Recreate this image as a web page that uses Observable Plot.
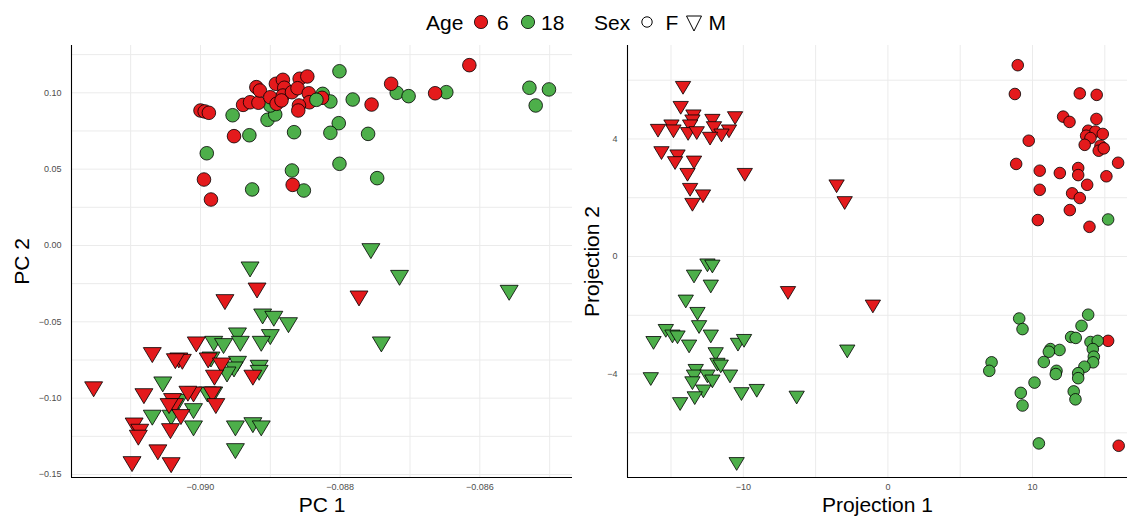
<!DOCTYPE html>
<html><head><meta charset="utf-8">
<script src="https://cdn.jsdelivr.net/npm/d3@7"></script>
<script src="https://cdn.jsdelivr.net/npm/@observablehq/plot@0.6"></script>
<style>
body{margin:0;background:#fff;font-family:"Liberation Sans",Arial,sans-serif;}
#wrap{position:relative;width:1132px;height:516px;overflow:hidden;background:#fff;}
#legend{position:absolute;left:0;top:0;}
#left{position:absolute;left:0;top:40px;}
#right{position:absolute;left:578px;top:40px;}
</style></head><body>
<div id="wrap">
<svg id="legend" width="1132" height="40" font-family="Liberation Sans, Arial, sans-serif" font-size="21" fill="black">
<text x="426" y="29.5">Age</text>
<circle cx="481" cy="22" r="6.6" fill="#E41A1C" stroke="black" stroke-width="0.8"/>
<text x="497" y="29.5">6</text>
<circle cx="528" cy="22" r="6.6" fill="#4DAF4A" stroke="black" stroke-width="0.8"/>
<text x="541" y="29.5">18</text>
<text x="594" y="29.5">Sex</text>
<circle cx="647" cy="22" r="5.2" fill="none" stroke="black" stroke-width="1"/>
<text x="665.5" y="29.5">F</text>
<path d="M686.5,16 L701.5,16 L694,31 Z" fill="none" stroke="black" stroke-width="1"/>
<text x="708.5" y="29.5">M</text>
</svg>
<div id="left"></div>
<div id="right"></div>
</div>
<script>
const red = "#E41A1C", green = "#4DAF4A";
const ageLevels = [6, 18];

// ---- Left panel: PCA (PC 1, PC 2) ----
const pcAge18F = [[-0.08954,0.0853],[-0.08930,0.0722],[-0.08991,0.0604],[-0.08926,0.0367],[-0.08904,0.0823],[-0.08893,0.0858],[-0.08900,0.0917],[-0.08866,0.0742],[-0.08869,0.0491],[-0.08852,0.0360],[-0.08801,0.1141],[-0.08825,0.0993],[-0.08814,0.0943],[-0.08782,0.0956],[-0.08719,0.1000],[-0.08702,0.0978],[-0.08648,0.1004],[-0.08529,0.1033],[-0.08501,0.1022],[-0.08520,0.0917],[-0.08802,0.0801],[-0.08814,0.0738],[-0.08760,0.0731],[-0.08801,0.0535],[-0.08747,0.0441]];
const pcAge6F = [[-0.09000,0.0884],[-0.08994,0.0878],[-0.08988,0.0869],[-0.08952,0.0716],[-0.08995,0.0432],[-0.08985,0.0301],[-0.08939,0.0921],[-0.08929,0.0938],[-0.08917,0.0935],[-0.08920,0.1037],[-0.08915,0.1015],[-0.08900,0.0971],[-0.08892,0.1059],[-0.08882,0.1085],[-0.08880,0.1033],[-0.08882,0.0982],[-0.08891,0.0928],[-0.08884,0.0950],[-0.08869,0.1004],[-0.08858,0.1092],[-0.08847,0.1107],[-0.08861,0.1030],[-0.08845,0.0997],[-0.08844,0.0938],[-0.08859,0.0917],[-0.08860,0.0884],[-0.08868,0.0397],[-0.08826,0.0967],[-0.08727,0.1059],[-0.08755,0.0923],[-0.08664,0.0997],[-0.08615,0.1181]];
const pcAge18Flate = [[-0.08834,0.0954]];
const pcAge18M = [[-0.08929,-0.0157],[-0.08911,-0.0465],[-0.08895,-0.0480],[-0.08874,-0.0522],[-0.08900,-0.0600],[-0.08913,-0.0644],[-0.08947,-0.0589],[-0.08943,-0.0644],[-0.08981,-0.0644],[-0.08967,-0.0659],[-0.08985,-0.0747],[-0.08947,-0.0775],[-0.08952,-0.0812],[-0.08962,-0.0845],[-0.08916,-0.0801],[-0.08916,-0.0834],[-0.09054,-0.0910],[-0.09069,-0.1128],[-0.09042,-0.1128],[-0.09010,-0.1085],[-0.09010,-0.1198],[-0.09031,-0.1024],[-0.08990,-0.0976],[-0.08981,-0.0976],[-0.08950,-0.1198],[-0.08925,-0.1177],[-0.08913,-0.1198],[-0.08950,-0.1347],[-0.08756,-0.0037],[-0.08715,-0.0212],[-0.08558,-0.0310],[-0.08741,-0.0648]];
const pcAge6M = [[-0.09153,-0.0942],[-0.08919,-0.0295],[-0.08965,-0.0371],[-0.09006,-0.0648],[-0.09069,-0.0718],[-0.09031,-0.0753],[-0.09026,-0.0762],[-0.09036,-0.0758],[-0.08989,-0.0753],[-0.08970,-0.0786],[-0.08980,-0.0866],[-0.08925,-0.0866],[-0.09081,-0.0987],[-0.08983,-0.0976],[-0.08978,-0.1052],[-0.09010,-0.0976],[-0.09018,-0.0971],[-0.09040,-0.1019],[-0.09037,-0.1052],[-0.09045,-0.1052],[-0.09028,-0.1124],[-0.09095,-0.1179],[-0.09087,-0.1220],[-0.09089,-0.1259],[-0.09043,-0.1216],[-0.09061,-0.1355],[-0.09098,-0.1432],[-0.09042,-0.1439],[-0.08773,-0.0347]];
const pcTicksX = [-0.090, -0.088, -0.086];
const pcGridX = [-0.091, -0.090, -0.089, -0.088, -0.087, -0.086, -0.085];
const pcTicksY = [-0.15, -0.10, -0.05, 0.00, 0.05, 0.10];
const pcGridY = [-0.15, -0.125, -0.10, -0.075, -0.05, -0.025, 0, 0.025, 0.05, 0.075, 0.10, 0.125];

// ---- Right panel: Projection 1, Projection 2 ----
const prAge6M = [[-14.17,5.74],[-14.33,5.06],[-13.45,4.77],[-13.52,4.60],[-13.68,4.43],[-14.97,4.43],[-15.90,4.28],[-14.83,4.26],[-13.82,4.17],[-13.22,4.20],[-12.14,4.62],[-12.03,4.37],[-10.57,4.71],[-10.99,4.26],[-11.51,4.12],[-12.30,4.01],[-15.66,3.52],[-14.55,3.41],[-14.72,3.18],[-13.41,3.20],[-13.86,2.78],[-9.90,2.78],[-13.68,2.27],[-12.79,2.05],[-13.52,1.76],[-3.55,2.39],[-2.99,1.82],[-6.91,-1.24],[-1.04,-1.70]];
const prAge18M = [[-12.48,-0.30],[-12.14,-0.34],[-13.41,-0.68],[-12.25,-1.02],[-13.98,-1.53],[-13.17,-1.95],[-13.06,-2.40],[-15.36,-2.53],[-14.90,-2.72],[-14.55,-2.75],[-16.21,-2.94],[-13.75,-3.06],[-12.25,-2.72],[-10.37,-3.00],[-9.95,-2.87],[-11.91,-3.32],[-11.79,-3.68],[-11.56,-3.74],[-13.29,-3.89],[-13.41,-4.08],[-12.48,-4.08],[-12.14,-4.25],[-10.92,-4.08],[-13.52,-4.31],[-12.76,-4.59],[-16.40,-4.17],[-13.36,-4.82],[-14.37,-5.02],[-10.13,-4.68],[-9.07,-4.57],[-6.31,-4.80],[-2.81,-3.23],[-10.46,-7.06]];
const prAge6F = [[8.98,6.51],[8.78,5.53],[13.27,5.55],[14.44,5.50],[12.12,4.76],[12.56,4.58],[14.42,4.68],[13.85,4.28],[14.35,4.25],[14.86,4.17],[13.71,4.11],[14.01,4.03],[13.61,3.80],[14.70,3.77],[14.58,3.60],[14.93,3.68],[9.74,3.94],[15.92,3.19],[8.87,3.15],[10.50,2.92],[11.89,2.84],[13.16,3.01],[13.16,2.77],[15.11,2.73],[13.78,2.44],[10.50,2.27],[12.74,2.15],[13.27,1.99],[12.58,1.58],[10.37,1.24],[13.94,1.01],[15.23,-2.87],[15.96,-6.44]];
const prAge18F = [[15.23,1.26],[9.08,-2.11],[9.31,-2.47],[13.85,-1.98],[13.39,-2.36],[12.67,-2.74],[12.99,-2.77],[14.01,-2.91],[14.51,-2.87],[14.17,-3.15],[14.24,-3.41],[14.19,-3.60],[13.59,-3.75],[13.16,-3.97],[13.16,-4.14],[11.24,-3.15],[11.87,-3.18],[11.13,-3.24],[10.78,-3.59],[11.66,-3.89],[11.61,-4.00],[7.17,-3.60],[7.01,-3.89],[10.14,-4.29],[9.19,-4.64],[9.31,-5.07],[12.85,-4.59],[12.97,-4.86],[10.44,-6.36]];
const prTicksX = [-10, 0, 10];
const prGridX = [-15, -10, -5, 0, 5, 10, 15];
const prTicksY = [-4, 0, 4];
const prGridY = [-6, -4, -2, 0, 2, 4, 6];

function rows(pairs, age) { return pairs.map(([x, y]) => ({x, y, age})); }

const triDown = {
  draw(ctx, size) {
    const r = Math.sqrt(size / Math.PI);
    const w = r * 1.32, h = r * 1.1;
    ctx.moveTo(-w, -h); ctx.lineTo(w, -h); ctx.lineTo(0, h); ctx.closePath();
  }
};

function panel({width, marginLeft, marginRight, xDomain, yDomain, ticksX, ticksY, gridX, gridY, fmtX, fmtY, femaleRows, maleRows, r, xLabel, yLabel, yLabelDx}) {
  return Plot.plot({
    width, height: 476,
    marginTop: 5, marginBottom: 39, marginLeft, marginRight,
    x: {domain: xDomain},
    y: {domain: yDomain},
    color: {domain: ageLevels, range: [red, green]},
    style: {fontFamily: "Liberation Sans, Arial, sans-serif", background: "white", overflow: "visible"},
    marks: [
      Plot.ruleX(gridX, {stroke: "#ebebeb", strokeWidth: 1}),
      Plot.ruleY(gridY, {stroke: "#ebebeb", strokeWidth: 1}),
      Plot.axisX(ticksX, {tickSize: 0, tickPadding: 6, fontSize: 9, color: "#4d4d4d", label: null, tickFormat: fmtX}),
      Plot.axisY(ticksY, {tickSize: 0, tickPadding: 10, fontSize: 9, color: "#4d4d4d", label: null, tickFormat: fmtY}),
      Plot.ruleX([xDomain[0]], {stroke: "black", strokeWidth: 1.1}),
      Plot.ruleY([yDomain[0]], {stroke: "black", strokeWidth: 1.1}),
      Plot.dot(femaleRows, {x: "x", y: "y", r, fill: "age", stroke: "black", strokeWidth: 0.8}),
      Plot.dot(maleRows, {x: "x", y: "y", r, symbol: triDown, fill: "age", stroke: "black", strokeWidth: 0.8}),
      Plot.text([xLabel], {text: d => d, frameAnchor: "bottom", lineAnchor: "middle", textAnchor: "middle", dy: 28, fontSize: 21, fill: "black"}),
      Plot.text([yLabel], {text: d => d, frameAnchor: "left", lineAnchor: "middle", textAnchor: "middle", dx: yLabelDx, rotate: -90, fontSize: 21, fill: "black"})
    ]
  });
}

const left = panel({
  width: 578, marginLeft: 71, marginRight: 6,
  xDomain: [-0.091847, -0.084673], yDomain: [-0.15197, 0.13098],
  ticksX: pcTicksX, ticksY: pcTicksY, gridX: pcGridX, gridY: pcGridY,
  fmtX: d3.format(".3f"), fmtY: d3.format(".2f"),
  femaleRows: [...rows(pcAge18F, 18), ...rows(pcAge6F, 6), ...rows(pcAge18Flate, 18)],
  maleRows: [...rows(pcAge18M, 18), ...rows(pcAge6M, 6)],
  r: 6.8, xLabel: "PC 1", yLabel: "PC 2", yLabelDx: -49
});
document.getElementById("left").appendChild(left);

const right = panel({
  width: 554, marginLeft: 49, marginRight: 5,
  xDomain: [-18.01, 16.57], yDomain: [-7.52, 7.18],
  ticksX: prTicksX, ticksY: prTicksY, gridX: prGridX, gridY: prGridY,
  fmtX: d3.format("d"), fmtY: d3.format("d"),
  femaleRows: [...rows(prAge6F, 6), ...rows(prAge18F, 18)],
  maleRows: [...rows(prAge6M, 6), ...rows(prAge18M, 18)],
  r: 5.8, xLabel: "Projection 1", yLabel: "Projection 2", yLabelDx: -35
});
document.getElementById("right").appendChild(right);
</script>
</body></html>
